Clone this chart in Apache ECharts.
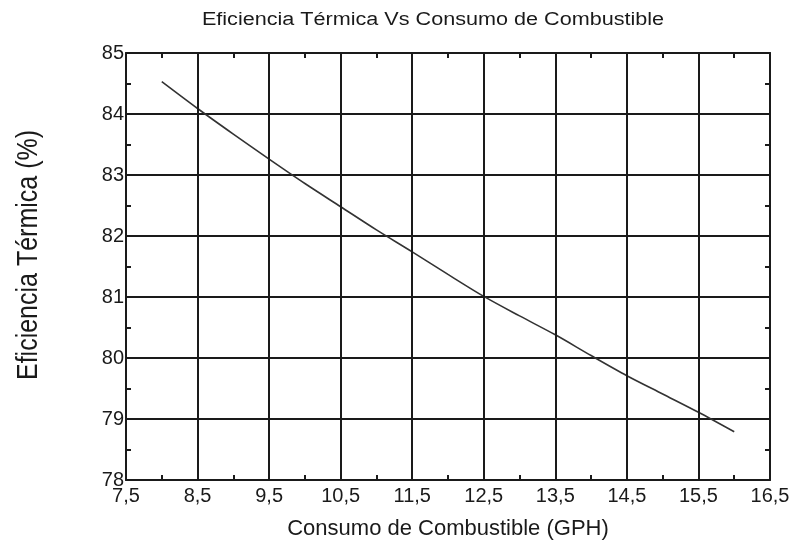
<!DOCTYPE html>
<html>
<head>
<meta charset="utf-8">
<script src="https://cdn.jsdelivr.net/npm/echarts@6/dist/echarts.min.js"></script>
<style>
html,body{margin:0;padding:0;background:#fff;}
#c{width:795px;height:559px;}
</style>
</head>
<body>
<div id="c"></div>
<script>
var titleText = 'Eficiencia Térmica Vs Consumo de Combustible';
var xName = 'Consumo de Combustible (GPH)';
var yName = 'Eficiencia Térmica (%)';
var consumo = [8.0, 8.5, 9.0, 9.5, 10.0, 10.5, 11.0, 11.5, 12.0, 12.5, 13.0, 13.5, 14.0, 14.5, 15.0, 15.5, 16.0];
var eficiencia = [84.53, 84.09, 83.67, 83.26, 82.86, 82.48, 82.10, 81.74, 81.37, 81.01, 80.69, 80.38, 80.04, 79.71, 79.41, 79.11, 78.79];
var xGridValues = [8.5, 9.5, 10.5, 11.5, 12.5, 13.5, 14.5, 15.5];

var FONT = '"Liberation Sans", Arial, sans-serif';
var INK = '#1a1a1a';
var chart = echarts.init(document.getElementById('c'), null, {renderer: 'canvas'});

function xLabel(v) {
  var r = Math.round(v * 10) / 10;
  if (Math.abs(r - Math.floor(r) - 0.5) > 0.01) return '';
  return r.toFixed(1).replace('.', ',');
}

var axisLineStyle = {show: true, lineStyle: {color: INK, width: 2}};

chart.setOption({
  animation: false,
  backgroundColor: '#fff',
  graphic: [{
    type: 'text', x: 433, y: 20, scaleX: 1.2, silent: true,
    style: {text: titleText, x: 0, y: 0, align: 'center', verticalAlign: 'middle',
            fontFamily: FONT, fontSize: 18, fill: INK}
  }, {
    type: 'text', x: 448, y: 529, silent: true,
    style: {text: xName, x: 0, y: 0, align: 'center', verticalAlign: 'middle',
            fontFamily: FONT, fontSize: 22, fill: INK}
  }, {
    type: 'text', x: 29, y: 255, rotation: Math.PI / 2, scaleY: 1.15, silent: true,
    style: {text: yName, x: 0, y: 0, align: 'center', verticalAlign: 'middle',
            fontFamily: FONT, fontSize: 25, fill: INK}
  }],
  grid: {left: 126, right: 25, top: 53, bottom: 79, containLabel: false},
  xAxis: [{
    type: 'value', min: 7.5, max: 16.5, interval: 0.5, position: 'bottom',
    axisLine: axisLineStyle,
    axisTick: {show: true, inside: true, length: 5, lineStyle: {color: INK, width: 2}},
    axisLabel: {formatter: xLabel, fontFamily: FONT, fontSize: 20, color: INK, margin: 6},
    splitLine: {show: false}
  }, {
    type: 'value', min: 7.5, max: 16.5, interval: 0.5, position: 'top',
    axisLine: axisLineStyle,
    axisTick: {show: true, inside: true, length: 5, lineStyle: {color: INK, width: 2}},
    axisLabel: {show: false},
    splitLine: {show: false}
  }],
  yAxis: [{
    type: 'value', min: 78, max: 85, interval: 1, position: 'left',
    axisLine: axisLineStyle,
    axisTick: {show: false},
    minorTick: {show: true, splitNumber: 2, length: -5, lineStyle: {color: INK, width: 2}},
    axisLabel: {fontFamily: FONT, fontSize: 20, color: INK, margin: 2},
    splitLine: {show: true, lineStyle: {color: INK, width: 2}}
  }, {
    type: 'value', min: 78, max: 85, interval: 1, position: 'right',
    axisLine: axisLineStyle,
    axisTick: {show: false},
    minorTick: {show: true, splitNumber: 2, length: -5, lineStyle: {color: INK, width: 2}},
    axisLabel: {show: false},
    splitLine: {show: false}
  }],
  series: [{
    type: 'line',
    data: consumo.map(function (x, i) { return [x, eficiencia[i]]; }),
    smooth: 0.3,
    symbol: 'none',
    lineStyle: {color: '#333', width: 1.6},
    markLine: {
      silent: true, symbol: 'none', label: {show: false},
      lineStyle: {color: INK, width: 2, type: 'solid'},
      data: xGridValues.map(function (v) { return {xAxis: v}; })
    }
  }]
});
</script>
</body>
</html>
